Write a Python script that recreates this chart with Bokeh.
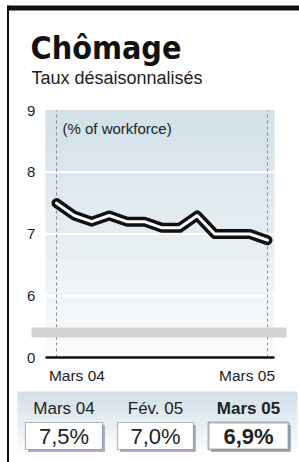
from bokeh.plotting import figure
from bokeh.models import Label, BoxAnnotation, FixedTicker, Range1d
from bokeh.embed import file_html
from bokeh.resources import INLINE

# ---- data ----
months = ["Mars 04", "Avr. 04", "Mai 04", "Juin 04", "Juil. 04", "Août 04", "Sept. 04",
          "Oct. 04", "Nov. 04", "Déc. 04", "Janv. 05", "Fév. 05", "Mars 05"]
rates = [7.5, 7.3, 7.2, 7.3, 7.2, 7.2, 7.1, 7.1, 7.3, 7.0, 7.0, 7.0, 6.9]
y_tick_values = [0, 6, 7, 8, 9]
grid_values = [6, 7, 8]
x_tick_labels = ["Mars 04", "Mars 05"]
summary_labels = ["Mars 04", "Fév. 05", "Mars 05"]
summary_values = ["7,5%", "7,0%", "6,9%"]

TITLE = "Chômage"
SUBTITLE = "Taux désaisonnalisés"
UNIT = "(% of workforce)"

# broken axis: 0, then 6..9
BREAK = 5
def disp(v):
    return v - BREAK if v > 0 else 0

xs = list(range(len(months)))
ys = [disp(v) for v in rates]
last = len(months) - 1

# plot area (data units)
X0, X1 = -0.63, 12.4
Y0, Y1 = 0, disp(9)

W, H = 299, 462
px_per_x = 211 / 12
px_per_y = 61.75
p = figure(width=W, height=H, output_backend="svg", toolbar_location=None,
           x_range=Range1d(-56 / px_per_x, (W - 56) / px_per_x),
           y_range=Range1d(-(H - 357) / px_per_y, 4 + 110 / px_per_y),
           min_border=0)
p.outline_line_color = None
p.background_fill_color = "white"
p.border_fill_color = "white"
p.xgrid.visible = False
p.ygrid.visible = False

def lerp(c1, c2, t):
    a = [int(c1[i:i+2], 16) for i in (1, 3, 5)]
    b = [int(c2[i:i+2], 16) for i in (1, 3, 5)]
    return "#%02x%02x%02x" % tuple(round(a[k] + (b[k] - a[k]) * t) for k in range(3))

def cbox(l, r, t, b, color, line_color=None, lw=1, level="annotation"):
    p.add_layout(BoxAnnotation(left=l, right=r, top=t, bottom=b,
                               left_units="canvas", right_units="canvas",
                               top_units="canvas", bottom_units="canvas",
                               fill_color=color, fill_alpha=1,
                               line_color=line_color, line_width=lw, level=level))

def clabel(x, y, text, size, bold=False, align="left", baseline="middle",
           font="Liberation Sans", color="#222222"):
    p.add_layout(Label(x=x, y=y, x_units="canvas", y_units="canvas", text=text,
                       text_font=font, text_font_size=size,
                       text_font_style="bold" if bold else "normal",
                       text_align=align, text_baseline=baseline, text_color=color))

# plot-area gradient bands
N = 18
for i in range(N):
    t = i / (N - 1)
    p.add_layout(BoxAnnotation(left=X0, right=X1, bottom=Y1 * i / N, top=Y1 * (i + 1) / N + 0.01,
                               fill_color=lerp("#f9fbfc", "#d3e1e9", t), fill_alpha=1,
                               line_color=None, level="underlay"))

# white grid lines
gy = [disp(v) for v in grid_values]
p.segment(x0=[X0] * len(gy), x1=[X1] * len(gy), y0=gy, y1=gy,
          line_color="white", line_width=1.8)

# dashed verticals
p.segment(x0=[0, last], x1=[0, last], y0=[Y0, Y0], y1=[Y1, Y1],
          line_color="#8a8a8a", line_dash="3 3", line_width=1)

# y axis placed inside the canvas
p.yaxis.fixed_location = X0
p.yaxis.ticker = FixedTicker(ticks=[disp(v) for v in y_tick_values])
p.yaxis.major_label_overrides = {disp(v): str(v) for v in y_tick_values}
p.yaxis.axis_line_color = None
p.yaxis.major_tick_line_color = None
p.yaxis.minor_tick_line_color = None
p.yaxis.major_label_standoff = 4
p.yaxis.major_label_text_font = "Liberation Sans"
p.yaxis.major_label_text_font_size = "15px"
p.yaxis.major_label_text_color = "#222222"

# x axis: labels kept inside the plot's width (first near left edge, second near right edge)
lab_pos = [X0 + 31.5 / px_per_x, X1 - 27.5 / px_per_x]
ax = p.xaxis[0]
ax.fixed_location = Y0
ax.bounds = (X0, X1)
ax.ticker = FixedTicker(ticks=lab_pos)
ax.major_label_overrides = {lab_pos[0]: x_tick_labels[0], lab_pos[1]: x_tick_labels[1]}
ax.axis_line_color = "#111111"
ax.axis_line_width = 2.5
ax.major_tick_line_color = None
ax.minor_tick_line_color = None
ax.major_label_standoff = 3
ax.major_label_text_font = "Liberation Sans"
ax.major_label_text_font_size = "15.5px"
ax.major_label_text_color = "#222222"

# the line: black casing with white core
p.line(xs, ys, line_width=10, line_color="#111111", line_join="round", line_cap="round")
p.line(xs, ys, line_width=3, line_color="white", line_join="round", line_cap="round")

# unit label
clabel(62, 128, UNIT, "15px")

# break band
cbox(31, 286, 327, 337, "#d3d3d3")

# frame border: top bar and left rule
cbox(7, W, 5, 10, "#111111")
cbox(6.5, 8.5, 5, 462, "#111111")

# title + subtitle
clabel(30, 47, TITLE, "32px", bold=True, font="DejaVu Sans Condensed", color="#111111")
clabel(31, 77, SUBTITLE, "18px")

# bottom summary panel
M = 14
for i in range(M):
    t = i / (M - 1)
    cbox(17, 297, 391 + i * 67 / M, 391 + (i + 1) * 67 / M + 0.5, lerp("#d2e0e9", "#ffffff", t))

box_l = [25, 117, 208]
box_r = [102, 193, 288]
for i in range(3):
    cx = (box_l[i] + box_r[i]) / 2
    bold = i == 2
    clabel(cx, 408, summary_labels[i], "17px", bold=bold, align="center")
    cbox(box_l[i] + 2.5, box_r[i] + 2.5, 424.5, 451.5, "#a7b4c6")
    cbox(box_l[i], box_r[i], 422, 449, "white", line_color="#111111", lw=2 if bold else 1.2)
    clabel(cx, 436, summary_values[i], "22px", bold=bold, align="center")

open("out.html", "w").write(file_html(p, INLINE))
